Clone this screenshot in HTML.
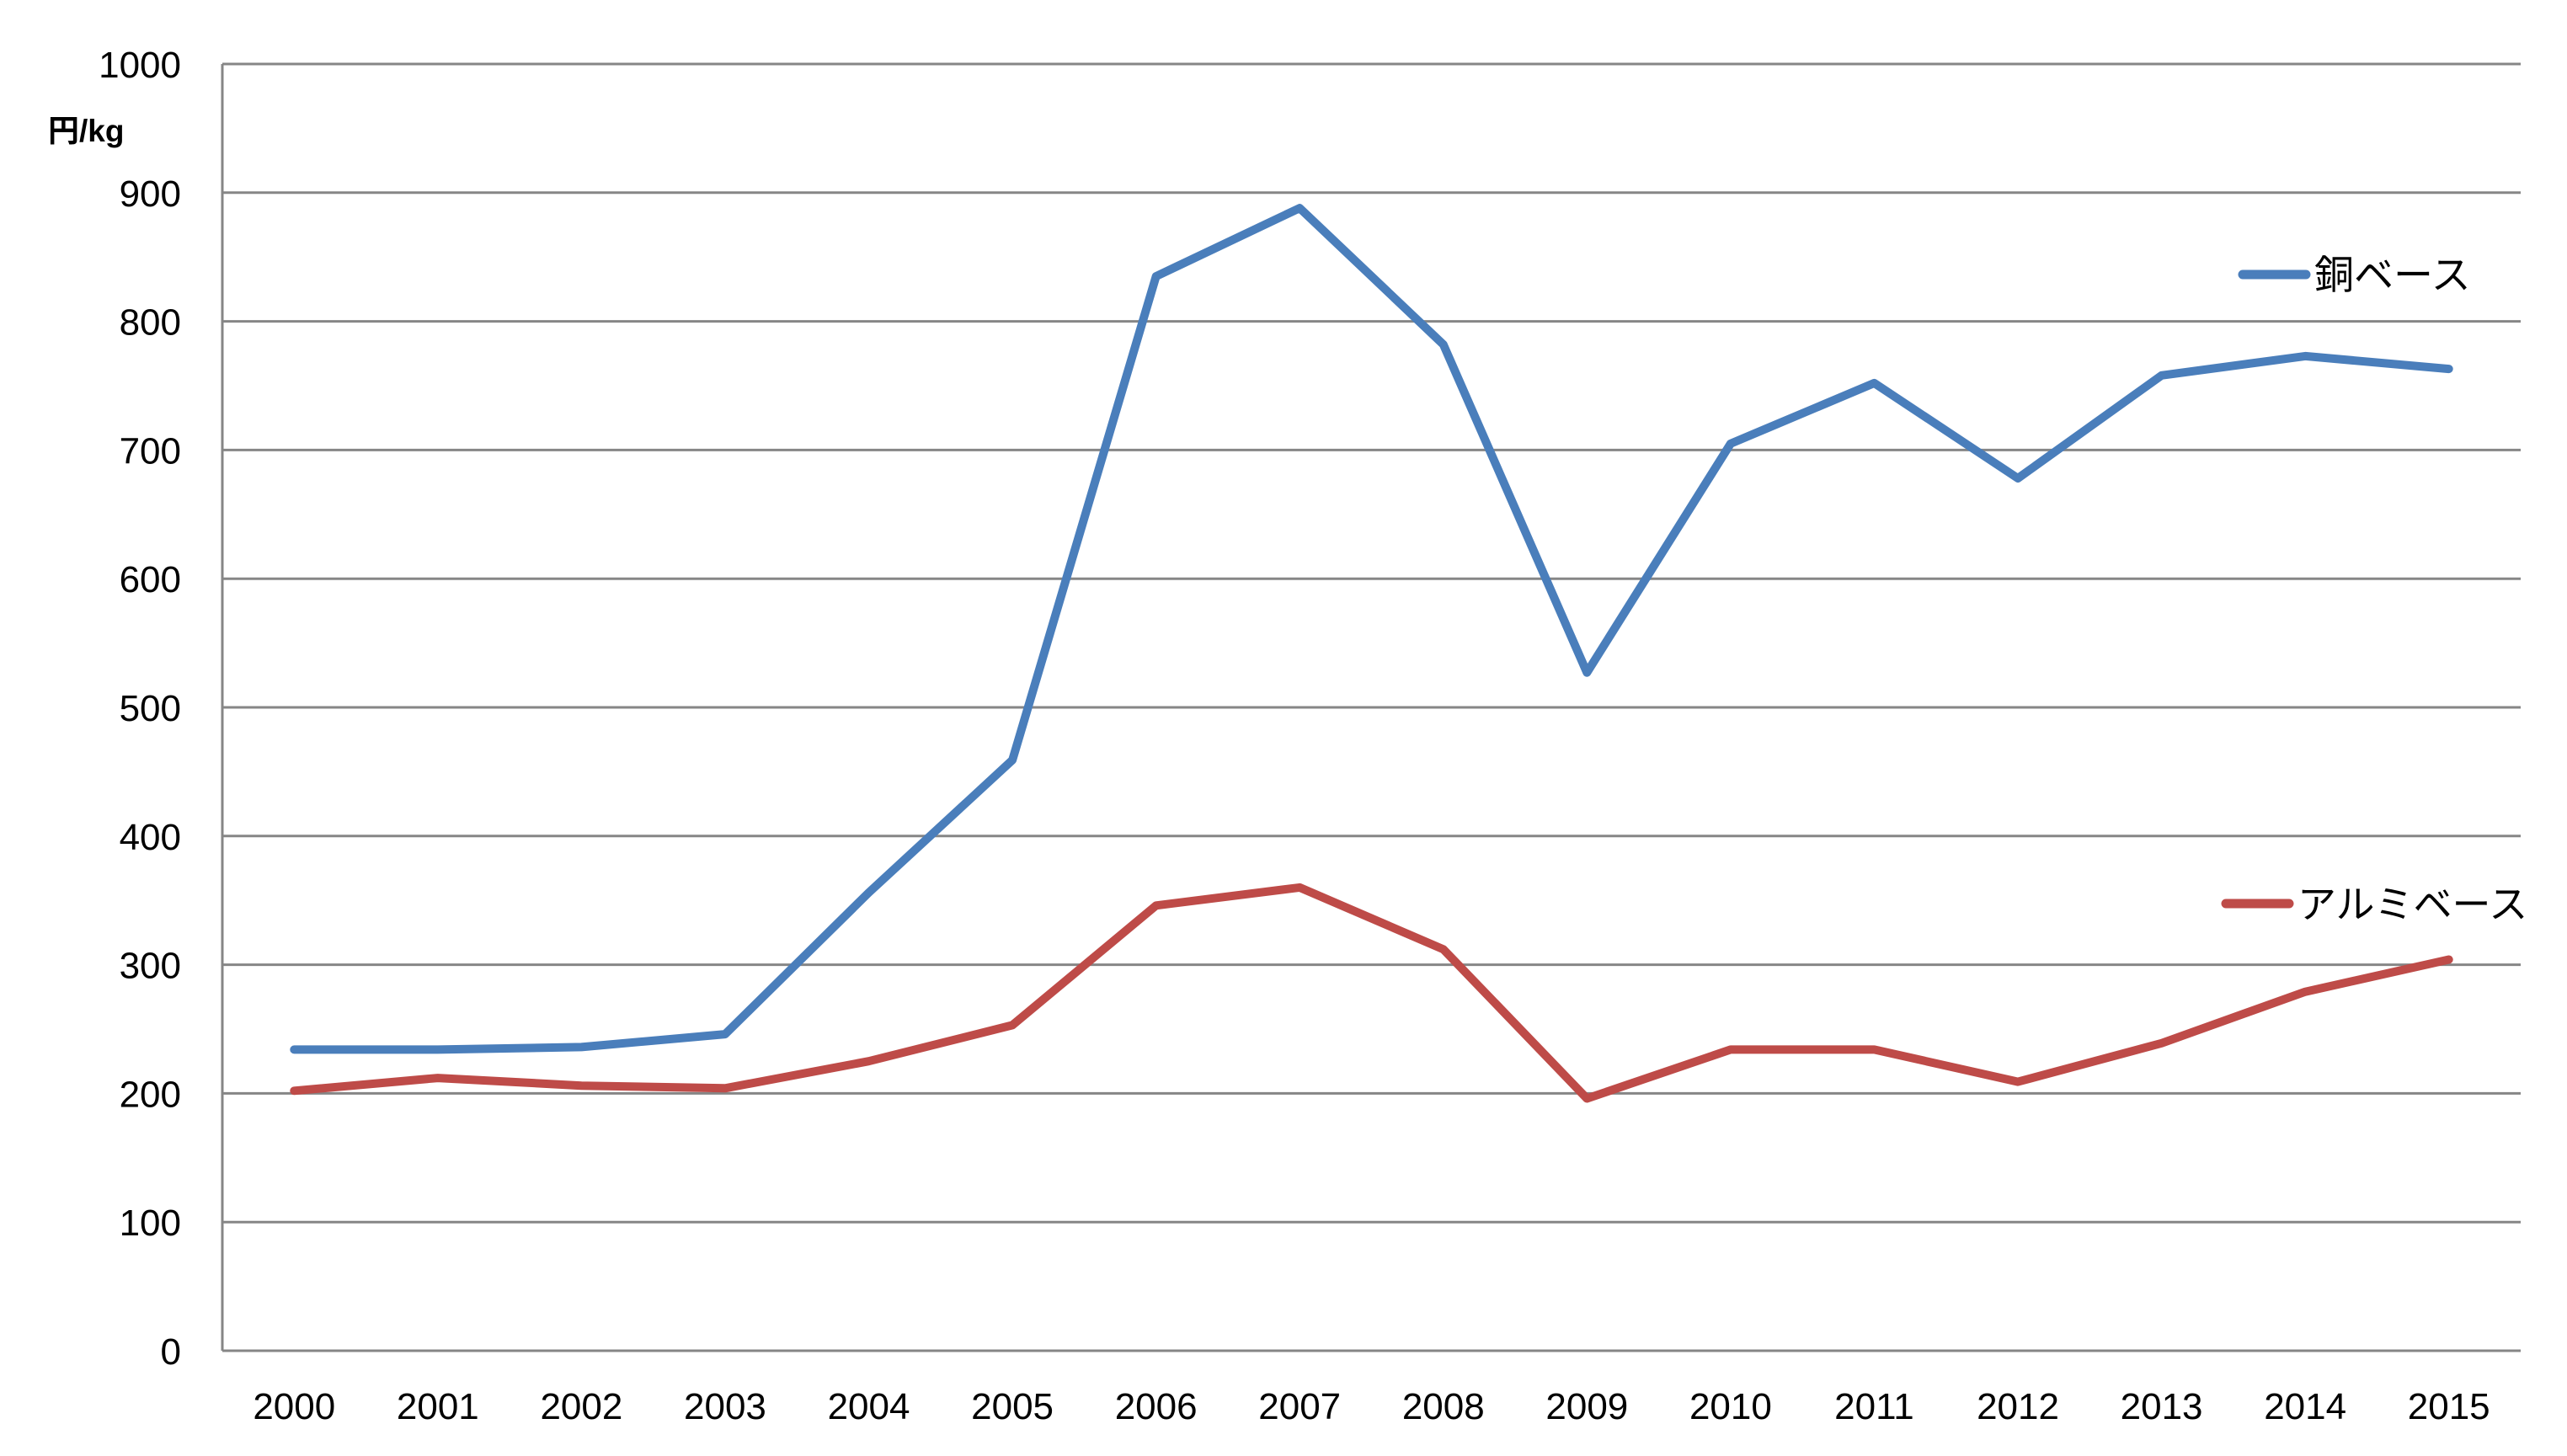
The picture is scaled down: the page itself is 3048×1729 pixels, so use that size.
<!DOCTYPE html>
<html><head><meta charset="utf-8"><style>
html,body{margin:0;padding:0;background:#fff;}
svg{display:block;}
text{font-family:"Liberation Sans","Noto Sans CJK JP",sans-serif;fill:#000;}
</style></head><body>
<svg id="chart" width="3048" height="1729" viewBox="0 0 3048 1729" xmlns="http://www.w3.org/2000/svg">
<g id="grid"></g>
<g id="yticks"></g>
<g id="xticks"></g>
<text x="57" y="168" font-size="37" font-weight="bold">円/kg</text>
<g id="series"></g>
<g>
<line x1="2663" y1="326" x2="2738" y2="326" stroke="#4a7ebb" stroke-width="11" stroke-linecap="round"/>
<text x="2748" y="343" font-size="47">銅ベース</text>
</g>
<g>
<line x1="2643" y1="1073" x2="2718" y2="1073" stroke="#be4b48" stroke-width="11" stroke-linecap="round"/>
<text x="2728" y="1090" font-size="46">アルミベース</text>
</g>
</svg>
<script>
const categories = ["2000","2001","2002","2003","2004","2005","2006","2007","2008","2009","2010","2011","2012","2013","2014","2015"];
const copperValues = [234,234,236,246,356,459,835,888,782,527,705,752,678,758,773,763];
const aluminumValues = [202,212,206,204,225,253,346,360,312,196,234,234,209,239,279,304];
const yTickLabels = [0,100,200,300,400,500,600,700,800,900,1000];

const L=264,R=2993,T=76,B=1604,YMAX=1000;
const NS="http://www.w3.org/2000/svg";
const band=(R-L)/categories.length;
function xPos(i){return L+band*(i+0.5);}
function yPos(v){return B-(v/YMAX)*(B-T);}
function mk(tag,attrs,parent){const e=document.createElementNS(NS,tag);for(const k in attrs)e.setAttribute(k,attrs[k]);parent.appendChild(e);return e;}

const grid=document.getElementById('grid');
const yt=document.getElementById('yticks');
yTickLabels.forEach(v=>{
  const ln=mk('line',{x1:L,x2:R,y1:yPos(v),y2:yPos(v),stroke:'#868686','stroke-width':3},grid);
  
  
  const t=mk('text',{x:215,y:yPos(v)+16,'font-size':44,'text-anchor':'end'},yt);
  t.textContent=v;
  
  
});
const ax=mk('line',{x1:L,x2:L,y1:T,y2:B,stroke:'#868686','stroke-width':3},grid);



const xt=document.getElementById('xticks');
categories.forEach((c,i)=>{
  const t=mk('text',{x:xPos(i),y:1685,'font-size':44,'text-anchor':'middle'},xt);
  t.textContent=c;
  
  
});

const sg=document.getElementById('series');
function drawLine(vals,color,name){
  const d=vals.map((v,i)=>(i?'L':'M')+xPos(i).toFixed(1)+' '+yPos(v).toFixed(1)).join(' ');
  const p=mk('path',{d:d,fill:'none',stroke:color,'stroke-width':10,'stroke-linejoin':'round','stroke-linecap':'round'},sg);
  
  
}
drawLine(copperValues,'#4a7ebb','copper-line');
drawLine(aluminumValues,'#be4b48','aluminum-line');
</script>
</body></html>
